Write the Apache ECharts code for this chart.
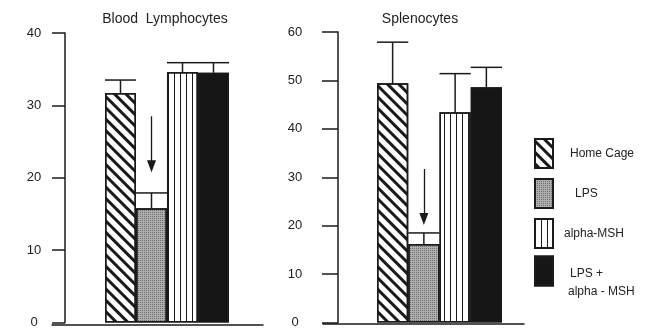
<!DOCTYPE html>
<html><head><meta charset="utf-8">
<script src="https://cdn.jsdelivr.net/npm/echarts@6/dist/echarts.min.js"></script>
<style>html,body{margin:0;padding:0;background:#fff}#c{width:654px;height:329px}</style>
</head><body><div id="c"></div>
<script>
const groups = ['Home Cage', 'LPS', 'alpha-MSH', 'LPS + alpha-MSH'];
const panelTitles = ['Blood  Lymphocytes', 'Splenocytes'];
const bloodMeans = [31.7, 15.8, 34.6, 34.5];
const bloodErrs = [1.8, 2.1, 1.3, 1.4];
const splenoMeans = [49.4, 16.2, 43.4, 48.6];
const splenoErrs = [8.5, 2.3, 8.0, 4.1];
const bloodTicks = {min: 0, max: 40, interval: 10};
const splenoTicks = {min: 0, max: 60, interval: 10};
const bloodArrow = [28.5, 21.6];
const splenoArrow = [31.7, 21.4];

const INK = '#1a1a1a';
const FONT = 'Liberation Sans, Arial, sans-serif';
const styles = [
  {color: '#ffffff', decal: {symbol: 'rect', color: INK, dashArrayX: [1, 0], dashArrayY: [2.5, 4.5], rotation: Math.PI / 4}},
  {color: '#aeaeae', decal: {symbol: 'rect', color: 'rgba(40,40,40,0.45)', dashArrayX: [1, 1], dashArrayY: [1, 1]}},
  {color: '#ffffff', decal: {symbol: 'rect', color: INK, dashArrayX: [1, 4.2], dashArrayY: [1, 0]}},
  {color: '#161616', decal: {symbol: 'none'}}
];

const panels = [
  {means: bloodMeans, errs: bloodErrs, ticks: bloodTicks, arrow: bloodArrow, title: panelTitles[0],
   axisGrid: {left: 52, top: 33, width: 211, height: 292},
   barGrid: {left: 105, top: 33, width: 124, height: 292},
   yOffset: 40, tickLen: 13, labelMargin: 31, titleX: 165},
  {means: splenoMeans, errs: splenoErrs, ticks: splenoTicks, arrow: splenoArrow, title: panelTitles[1],
   axisGrid: {left: 323, top: 32, width: 201, height: 292},
   barGrid: {left: 377, top: 32, width: 125, height: 292},
   yOffset: 39, tickLen: 16, labelMargin: 43, titleX: 420}
];

const grid = [], xAxis = [], yAxis = [], series = [], title = [];
panels.forEach((p, pi) => {
  const ag = grid.length;
  grid.push(p.axisGrid);
  xAxis.push({gridIndex: ag, type: 'value', min: 0, max: 1, axisLine: {show: true, onZero: false, lineStyle: {color: INK, width: 1.5}}, axisTick: {show: false}, axisLabel: {show: false}, splitLine: {show: false}});
  yAxis.push({gridIndex: ag, type: 'value', min: p.ticks.min, max: p.ticks.max, show: false});
  const bg = grid.length;
  grid.push(p.barGrid);
  const xi = xAxis.length;
  xAxis.push({gridIndex: bg, type: 'category', data: groups, show: false, boundaryGap: true});
  const yi = yAxis.length;
  yAxis.push({gridIndex: bg, type: 'value', min: p.ticks.min, max: p.ticks.max, interval: p.ticks.interval, offset: p.yOffset,
    axisLine: {show: true, lineStyle: {color: INK, width: 1.5}},
    axisTick: {show: true, length: p.tickLen, lineStyle: {color: INK, width: 1.5}},
    axisLabel: {margin: p.labelMargin, align: 'center', fontSize: 13, color: '#222', fontFamily: FONT},
    splitLine: {show: false}});
  groups.forEach((g, gi) => {
    series.push({type: 'bar', name: g, xAxisIndex: xi, yAxisIndex: yi,
      data: p.means.map((v, j) => j === gi ? v : '-'),
      barWidth: '100%', barGap: '-100%', silent: true,
      itemStyle: Object.assign({borderColor: INK, borderWidth: 1.5}, styles[gi]),
      markLine: gi === 1 ? {silent: true, symbol: ['none', 'triangle'], symbolSize: [9, 12], label: {show: false},
        lineStyle: {color: INK, width: 1.3, type: 'solid'},
        data: [[{coord: [gi, p.arrow[0]]}, {coord: [gi, p.arrow[1]]}]]} : undefined
    });
  });
  series.push({type: 'custom', xAxisIndex: xi, yAxisIndex: yi, silent: true, z: 5,
    data: p.means.map((v, j) => [j, v, p.errs[j]]),
    encode: {x: 0, y: 1},
    renderItem: (params, api) => {
      const i = api.value(0), m = api.value(1), e = api.value(2);
      const base = api.coord([i, m]);
      const top = api.coord([i, m + e]);
      const w = api.size([1, 0])[0];
      return {type: 'group', children: [
        {type: 'line', shape: {x1: base[0], y1: base[1], x2: top[0], y2: top[1]}, style: {stroke: INK, lineWidth: 1.5}},
        {type: 'line', shape: {x1: top[0] - w / 2, y1: top[1], x2: top[0] + w / 2, y2: top[1]}, style: {stroke: INK, lineWidth: 1.5}}
      ]};
    }
  });
  title.push({text: p.title, left: p.titleX, top: 12, textAlign: 'center', padding: 0,
    textStyle: {fontSize: 14, fontWeight: 'normal', color: '#222', fontFamily: FONT}});
});

const chart = echarts.init(document.getElementById('c'), null, {renderer: 'canvas'});
chart.setOption({
  animation: false,
  backgroundColor: '#ffffff',
  title: title,
  grid: grid, xAxis: xAxis, yAxis: yAxis, series: series,
  legend: [
    {data: groups.slice(0, 3), orient: 'vertical', left: 534, top: 138, itemWidth: 18, itemHeight: 29, itemGap: 9,
      icon: 'rect', selectedMode: false, padding: 0,
      formatter: name => {
        if (name === 'Home Cage') return '{a|Home Cage}';
        if (name === 'LPS') return '{b|LPS}';
        return '{c|alpha-MSH}';
      },
      textStyle: {fontSize: 12, color: '#222', fontFamily: FONT,
        rich: {
          a: {fontSize: 12, padding: [0, 0, 0, 12]},
          b: {fontSize: 12, padding: [0, 0, 0, 17]},
          c: {fontSize: 12, padding: [0, 0, 0, 6]}
        }}
    },
    {data: groups.slice(3), orient: 'vertical', left: 534, top: 247, itemWidth: 18, itemHeight: 29,
      icon: 'rect', selectedMode: false, padding: 0,
      formatter: () => '{s| }\n{d|LPS +}\n{e|alpha - MSH}',
      textStyle: {fontSize: 12, color: '#222', fontFamily: FONT,
        rich: {
          s: {fontSize: 12, lineHeight: 23},
          d: {fontSize: 12, lineHeight: 18, padding: [0, 0, 0, 12]},
          e: {fontSize: 12, lineHeight: 18, padding: [0, 0, 0, 10]}
        }}
    }
  ]
});
</script></body></html>
